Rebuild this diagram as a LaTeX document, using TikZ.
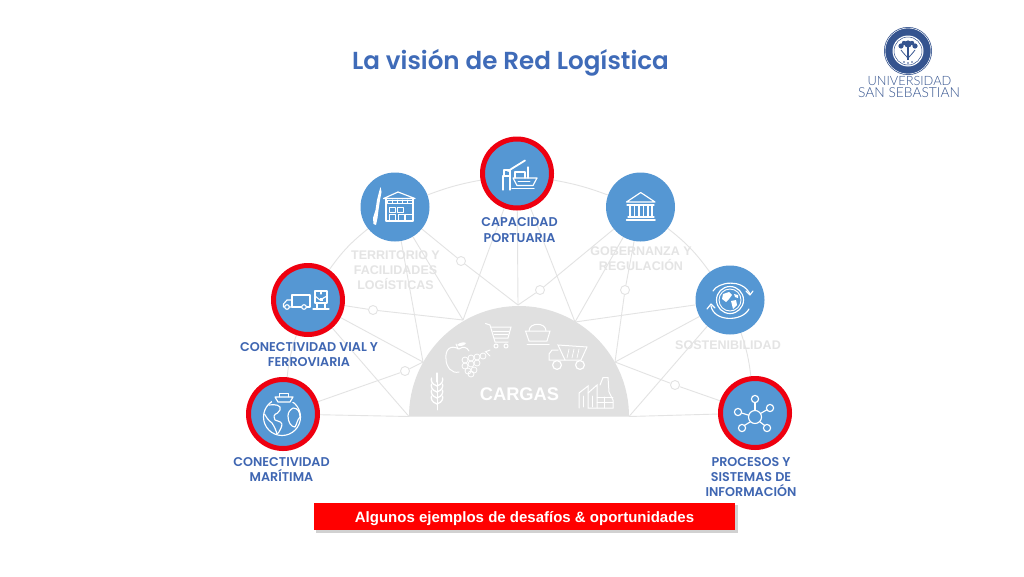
\documentclass[tikz,border=0pt]{standalone}
\usepackage{fontspec}
\setmainfont{Poppins}
\newfontfamily\labf{Poppins SemiBold}
\newfontfamily\arialf{Liberation Sans}
\newfontfamily\logof{Lato Light}
\usetikzlibrary{backgrounds}
\definecolor{cblue}{HTML}{5597D3}
\definecolor{tblue}{HTML}{3F6BB8}
\definecolor{lblue}{HTML}{3F66B2}
\definecolor{ghost}{HTML}{E4E4E4}
\definecolor{netg}{HTML}{E3E3E3}
\definecolor{domeg}{HTML}{E0E0E0}
\definecolor{rring}{HTML}{EE0010}
\definecolor{logob}{HTML}{35548F}
\tikzset{
  hubplain/.style={circle,fill=cblue,minimum size=69pt,inner sep=0pt},
  hubring/.style={circle,fill=cblue,draw=rring,line width=5pt,minimum size=69pt,inner sep=0pt},
  joint/.style={circle,fill=white,draw=netg,line width=.9pt,minimum size=9pt,inner sep=0pt},
  netline/.style={draw=netg,line width=.9pt},
  toplabel/.style={text=lblue,font=\labf\fontsize{12.7}{15.4}\selectfont,align=center,inner sep=0pt},
  ghostlabel/.style={text=ghost,font=\arialf\fontsize{12.5}{15}\selectfont\bfseries,align=center,inner sep=0pt},
  ic/.style={draw=white,line width=1.15pt,line cap=round,line join=round,fill=none},
  lg/.style={draw=white,line width=1pt,fill=none,line cap=round},
}
\begin{document}
\begin{tikzpicture}[x=1pt,y=-1pt]
\useasboundingbox (0,0) rectangle (1024,576);

% title
\node[text=tblue,font=\labf\fontsize{24.6}{28}\selectfont,inner sep=0pt] (title) at (510.5,62.5) {La visión de Red Logística};

% hubs
\node[hubplain] (terr) at (395,207) {};
\node[hubring] (cap) at (517,173.5) {};
\node[hubplain] (gob) at (640.5,207) {};
\node[hubplain] (sos) at (730,300) {};
\node[hubring] (pro) at (755,413) {};
\node[hubring] (via) at (308,300) {};
\node[hubring] (mar) at (283,414) {};

% dome contact points
\coordinate (p1) at (463,320);
\coordinate (p2) at (518,305);
\coordinate (p3) at (575,322);
\coordinate (p4) at (423,362);
\coordinate (p5) at (615,362);
\coordinate (p6) at (409,416.5);
\coordinate (p7) at (629,416.5);

% joints
\node[joint] (j1) at (373,310) {};
\node[joint] (j2) at (461,261) {};
\node[joint] (j3) at (540,290) {};
\node[joint] (j4) at (625,290) {};
\node[joint] (j5) at (675,385) {};
\node[joint] (j6) at (405,371) {};

\begin{pgfonlayer}{background}
\fill[white] (0,0) rectangle (1024,576);
\draw[netline] (via) -- (j1) -- (p1);
\draw[netline] (terr) -- (j2) -- (p2);
\draw[netline] (terr) -- (p1);
\draw[netline] (terr) -- (p4);
\draw[netline] (cap) -- (p1);
\draw[netline] (cap) -- (p2);
\draw[netline] (cap) -- (p3);
\draw[netline] (gob) -- (j3) -- (p2);
\draw[netline] (gob) -- (p3);
\draw[netline] (gob) -- (j4) -- (p5);
\draw[netline] (sos) -- (p3);
\draw[netline] (sos) -- (p5);
\draw[netline] (sos) -- (p7);
\draw[netline] (pro) -- (j5) -- (p5);
\draw[netline] (via) -- (p4);
\draw[netline] (via) -- (p6);
\draw[netline] (mar) -- (j6) -- (p4);
\draw[netline] (mar) -- (p6);
\draw[netline] (p7) -- (pro);
\draw[netline] (mar) to[bend left=6] (via);
\draw[netline] (via) to[bend left=8] (terr);
\draw[netline] (terr) to[bend left=5] (cap);
\draw[netline] (cap) to[bend left=5] (gob);
\draw[netline] (gob) to[bend left=8] (sos);
\draw[netline] (sos) to[bend left=6] (pro);
\end{pgfonlayer}

% dome
\fill[domeg] (409,416.5) arc[start angle=180,end angle=0,x radius=110,y radius=-110.5] -- cycle;
\node[text=white,font=\arialf\fontsize{18.3}{20}\selectfont\bfseries,inner sep=0pt] (cargas) at (519.5,394.5) {CARGAS};

% labels
\node[toplabel] (lcap) at (519.5,230) {CAPACIDAD\\PORTUARIA};
\node[toplabel] (lvia) at (309,354.5) {CONECTIVIDAD VIAL Y\\FERROVIARIA};
\node[toplabel] (lmar) at (281.5,469.5) {CONECTIVIDAD\\MARÍTIMA};
\node[toplabel] (lpro) at (751,477) {PROCESOS Y\\SISTEMAS DE\\INFORMACIÓN};
\node[ghostlabel] (lterr) at (395.5,270) {TERRITORIO Y\\FACILIDADES\\LOGÍSTICAS};
\node[ghostlabel] (lgob) at (641,259) {GOBERNANZA Y\\REGULACIÓN};
\node[ghostlabel] (lsos) at (728,345) {SOSTENIBILIDAD};

% banner
\fill[black!45,opacity=.4] (316,505) rectangle (737.5,532.5);
\node[fill=red,minimum width=421pt,minimum height=27pt,inner sep=0pt,text=white,font=\arialf\fontsize{15}{16}\selectfont\bfseries] (banner) at (524.5,516.5) {\raisebox{-5.5pt}[0pt][0pt]{Algunos ejemplos de desafíos \& oportunidades}};

% ---- icons ----
% territorio: Chile strip + warehouse
\fill[white] (380.5,187) -- (381.5,192) -- (380,200) -- (378.5,210) -- (377.5,218) -- (376,225) -- (373.5,224) -- (373,218) -- (375.5,210) -- (377,200) -- (379,192) -- cycle;
\draw[ic] (383.5,198.5) -- (398,192) -- (415,198.5) -- cycle;
\draw[ic] (386,198.5) -- (386,221) -- (413,221) -- (413,198.5);
\draw[ic,line width=.7pt] (387,200) rectangle (412,203);
\foreach \x in {392,397,402,407} \draw[ic,line width=.7pt] (\x,200) -- (\x,203);
\draw[ic,line width=.8pt] (389,207) rectangle (395,212);
\draw[ic,line width=.8pt] (397,207) rectangle (403,212);
\draw[ic,line width=.8pt] (389,214) rectangle (395,220);
\draw[ic,line width=.8pt] (398,214) rectangle (404,220);
\draw[ic,line width=.8pt] (405,214) rectangle (412,220);

% capacidad: crane + ship
\draw[ic] (503,190) -- (503,176) -- (510,176) -- (510,190);
\draw[ic] (504,170) rectangle (510,176);
\draw[ic,line width=1.8pt] (508,171) -- (525,160.5);
\draw[ic] (513,178) -- (537,178) -- (533,185.5) -- (517,185.5) -- cycle;
\draw[ic] (515,178) -- (515,172) -- (525,172) -- (525,178);
\draw[ic] (528,178) -- (528,167);
\draw[ic,line width=.8pt] (518,181) -- (530,181);
\draw[ic,line width=1.3pt,dash pattern=on 2pt off 1pt] (512,188.5) -- (534,188.5);

% gobernanza: columned building
\draw[ic] (626.5,202) -- (640.7,192.5) -- (655,202) -- cycle;
\draw[ic] (627,205) -- (654,205);
\foreach \x in {630,634.5,639,643.5,648,652} \draw[ic] (\x,206) -- (\x,216);
\draw[ic] (628,217) -- (654,217);
\draw[ic,line width=1.5pt] (626.5,219.8) -- (655,219.8);

% sostenibilidad: globe and arrows
\draw[ic] (730,300) circle (13.5);
\draw[ic,line width=.9pt] (730,300) circle (11);
\fill[white] (723,294) -- (729,292) -- (732,295) -- (729,299) -- (726,302) -- (722,299) -- cycle;
\fill[white] (731,301) -- (736,300) -- (737,305) -- (733,309) -- cycle;
\fill[white] (734,294) -- (738,295) -- (738,298) -- (735,297) -- cycle;
\draw[ic] (713,291) .. controls (718,282) and (742,278) .. (750,294);
\draw[ic] (746,291) -- (750,295) -- (753,291);
\draw[ic] (711,306) .. controls (714,322) and (742,322) .. (749,309);
\draw[ic] (707,309) -- (711,304) -- (715,308);

% vial: truck + train
\draw[ic] (292,295) rectangle (310,307);
\draw[ic] (292,300) -- (287,300) -- (283.5,304) -- (283.5,307) -- (292,307);
\draw[ic,fill=cblue] (287,307) circle (2.3);
\draw[ic,fill=cblue] (304,307) circle (2.3);
\draw[ic] (315,291) -- (327,291) -- (327,303) -- (315,303) -- cycle;
\draw[ic] (315,296) -- (320,300) -- (327,296);
\draw[ic] (321,291) -- (321,294);
\draw[ic] (317,304) -- (317,308);
\draw[ic] (325,304) -- (325,308);
\draw[ic] (313,309) -- (329,309);
\fill[white] (319.5,298) rectangle (322.5,301);

% maritima: globe + ship
\draw[ic] (282,417) circle (18.5);
\draw[ic] (269,405) .. controls (275,404) and (282,405) .. (280,410) .. controls (277,416) and (272,412) .. (275,420) .. controls (279,422) and (284,421) .. (281,428) .. controls (279,432) and (278,434) .. (277,434);
\draw[ic] (277,434) .. controls (276,430) and (274,426) .. (272,423) .. controls (268,420) and (266,417) .. (264.5,414);
\draw[ic] (293,408) .. controls (298,408) and (300,412) .. (300,417) .. controls (297,420) and (297,424) .. (295,427) .. controls (291,427) and (288,422) .. (288,416) .. controls (288,412) and (290,410) .. (293,408);
\fill[cblue] (272,392) rectangle (296,402);
\draw[ic] (275,397) -- (293,397) -- (290,402) -- (278,402) -- cycle;
\draw[ic,line width=.8pt] (279,397) -- (279,393) -- (288,393) -- (288,397);

% procesos: hub
\draw[ic] (755,417) circle (6.5);
\foreach \a/\b in {755/399,770/408,738/412,742/428,767/428} {
  \draw[ic] (\a,\b) circle (3.6);
}
\draw[ic] (755,402.6) -- (755,410.5);
\draw[ic] (767,409.7) -- (760.5,413.5);
\draw[ic] (741.6,413) -- (748.7,415.2);
\draw[ic] (744.5,425.4) -- (750.5,421.7);
\draw[ic] (764.5,425.4) -- (759.6,421.6);

% dome: cart
\draw[lg] (485.5,323.5) -- (490,325) -- (495,342) -- (508,342);
\draw[lg] (490.5,327) -- (511,327) -- (508,338) -- (494,338);
\draw[lg,line width=.7pt] (493,331) -- (509,331);
\draw[lg,line width=.7pt] (494,334.5) -- (508,334.5);
\draw[lg] (496,346) circle (2);
\draw[lg] (506,346) circle (2);
% dome: coal wagon
\draw[lg] (525.5,331) -- (550,331) -- (547,341) -- (529,341) -- cycle;
\draw[lg] (529,331) .. controls (529,322) and (546,322) .. (546,331);
\draw[lg] (527,344) -- (549,344);
% dome: dump truck
\draw[lg] (558,345) -- (587,347) -- (581,360) -- (565,360) -- cycle;
\draw[lg] (565,360) -- (549,360) -- (549,354) -- (552,350) -- (558,350);
\draw[lg,line width=.7pt] (569,349) -- (567,358);
\draw[lg,line width=.7pt] (574,349) -- (572,358);
\draw[lg,line width=.7pt] (579,349) -- (577,358);
\draw[lg,line width=1.2pt] (557,365) circle (4.4);
\draw[lg,line width=1.2pt] (580,365) circle (4.4);
% dome: factory
\draw[lg] (579,408) -- (579,393) -- (588,386) -- (588,408) -- (613,408);
\draw[lg] (588,393) -- (597,385) -- (597,408);
\draw[lg] (600,385) -- (603,377.5) -- (608,377.5) -- (609,392) -- (613,400) -- (613,408);
\draw[lg,line width=.7pt] (597,397) -- (613,397);
\draw[lg,line width=.7pt] (597,402) -- (613,402);
\draw[lg,line width=.7pt] (604,397) -- (604,408);
\draw[lg,line width=.7pt] (583,396) -- (583,407);
\draw[lg,line width=.7pt] (592,396) -- (592,407);
% dome: apple and grapes
\draw[lg] (459,349) .. controls (450,344) and (445,350) .. (446,359) .. controls (446,367) and (452,374) .. (459,372);
\draw[lg] (459,349) .. controls (463,346) and (467,347) .. (469,351);
\draw[lg] (458,349) -- (456,344);
\fill[white] (457,345) .. controls (460,342) and (464,342) .. (466,343) .. controls (464,346) and (460,347) .. (457,345);
\foreach \c in {{465,360},{471,358},{477,357},{483,356},{465,366},{471,364},{477,363},{468,371},{474,370},{471,374}} {
  \draw[lg,line width=.8pt] (\c) circle (3);
}
\draw[lg] (486,352) -- (490,356);
\draw[lg] (485,352) -- (490,350);
% dome: wheat
\draw[lg,line width=.8pt] (437,375) -- (437,410);
\foreach \y in {378,384,390,396} {
  \draw[lg,line width=1.3pt] (437,\y+8) .. controls (431,\y+6) and (431,\y+2) .. (431.5,\y);
  \draw[lg,line width=1.3pt] (437,\y+8) .. controls (443,\y+6) and (443,\y+2) .. (442.5,\y);
}
\draw[lg,line width=1.3pt] (437,373) -- (437,382);

% logo
\fill[logob] (908,51) circle (24);
\draw[white,line width=.5pt] (908,51) circle (23);
\fill[white] (908,51) circle (15.5);
\draw[logob,line width=.5pt] (908,51) circle (14);
\draw[logob,line width=1.1pt] (908,46) -- (908,60);
\draw[logob,line width=.8pt] (901,50) .. controls (904,54) and (906,56) .. (908,58) .. controls (910,56) and (912,54) .. (915,50);
\fill[logob] (901,46) circle (2.6) (915,46) circle (2.6) (908,44) circle (3.6) (904,43) circle (2.2) (912,43) circle (2.2);
\fill[logob] (904,62) circle (.9) (908,63) circle (.9) (912,62) circle (.9);
\node[text=logob,font=\logof\fontsize{12.8}{13}\selectfont,inner sep=0pt] (u1) at (909.5,81) {UNIVERSIDAD};
\node[text=logob,font=\logof\fontsize{13.8}{13}\selectfont,inner sep=0pt] (u2) at (909,92.5) {SAN SEBASTIAN};
\end{tikzpicture}
\end{document}
